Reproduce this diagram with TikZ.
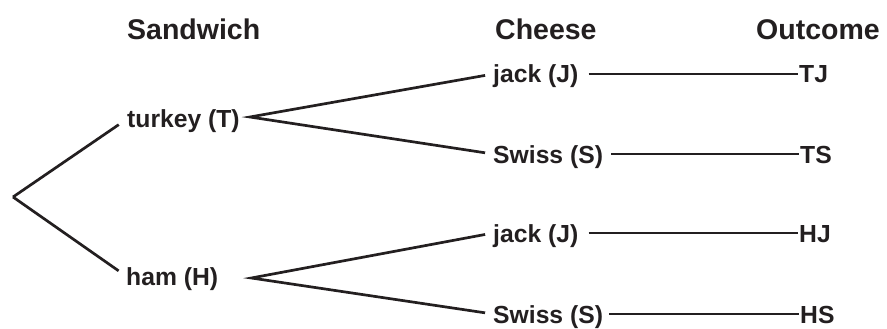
\documentclass[tikz,border=0pt]{standalone}
\usepackage{fontspec}
\setmainfont{Liberation Sans}
\begin{document}
\begin{tikzpicture}[x=1pt,y=-1pt,
  lbl/.style={font=\bfseries\fontsize{24.7}{26}\selectfont, inner sep=0pt, text height=18pt, text depth=0pt, anchor=west, text=ink},
  hdr/.style={font=\bfseries\fontsize{28.5}{30}\selectfont, inner sep=0pt, anchor=base west, text=ink},
  conn/.style={draw=ink, line width=2.7pt, line join=miter}]
\definecolor{ink}{HTML}{231F20}
\useasboundingbox (0,0) rectangle (887,329);
% headers
\node[hdr] (hS) at (127,40) {Sandwich};
\node[hdr] (hC) at (495,40) {Cheese};
\node[hdr] (hO) at (756,40) {Outcome};
% root
\coordinate (root) at (13,197);
% sandwiches
\node[lbl] (T) at (127,119) {turkey (T)};
\node[lbl] (H) at (126,276) {ham (H)};
% branch points
\coordinate (Tb) at ([xshift=10pt,yshift=2pt]T.east);
\coordinate (Hb) at ([xshift=33pt,yshift=-2pt]H.east);
% cheeses
\node[lbl] (TJc) at (493,74) {jack (J)};
\node[lbl] (TSc) at (493,154) {Swiss (S)};
\node[lbl] (HJc) at (493,233) {jack (J)};
\node[lbl] (HSc) at (493,314) {Swiss (S)};
% outcomes
\node[lbl] (TJ) at (799,74) {TJ};
\node[lbl] (TS) at (800,154) {TS};
\node[lbl] (HJ) at (799,233) {HJ};
\node[lbl] (HS) at (800,314) {HS};
% connectors
\draw[conn, shorten >=10pt] (root) -- (T.west);
\draw[conn, shorten >=9pt] (root) -- (H.west);
\draw[conn, shorten <=8pt, shorten >=8pt] (TJc.west) -- (Tb) -- (TSc.west);
\draw[conn, shorten <=8pt, shorten >=8pt] (HJc.west) -- (Hb) -- (HSc.west);
\draw[conn, shorten <=10pt, shorten >=1pt] (TJc.east) -- (TJ.west);
\draw[conn, shorten <=8pt, shorten >=1pt] (TSc.east) -- (TS.west);
\draw[conn, shorten <=10pt, shorten >=1pt] (HJc.east) -- (HJ.west);
\draw[conn, shorten <=6pt, shorten >=1pt] (HSc.east) -- (HS.west);
\end{tikzpicture}
\end{document}
